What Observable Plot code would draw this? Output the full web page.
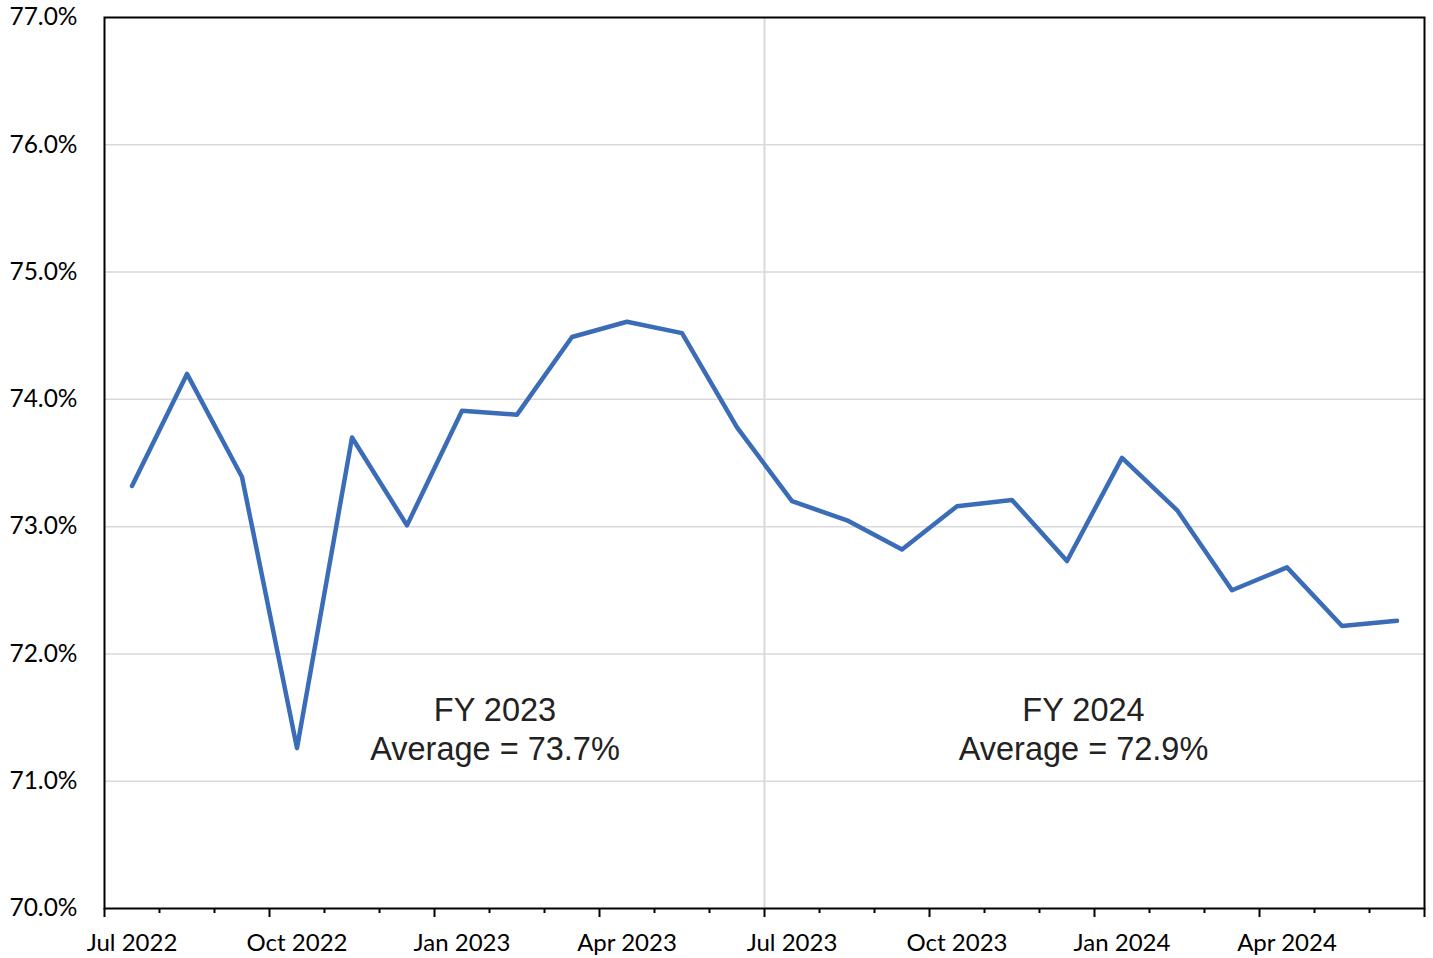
<!DOCTYPE html>
<html>
<head>
<meta charset="utf-8">
<script src="https://cdn.jsdelivr.net/npm/d3@7"></script>
<script src="https://cdn.jsdelivr.net/npm/@observablehq/plot@0.6"></script>
<style>
  html, body { margin: 0; padding: 0; background: #fff; }
  #chart svg { display: block; }
</style>
</head>
<body>
<div id="chart"></div>
<script>
const months = [
  "Jul 2022","Aug 2022","Sep 2022","Oct 2022","Nov 2022","Dec 2022",
  "Jan 2023","Feb 2023","Mar 2023","Apr 2023","May 2023","Jun 2023",
  "Jul 2023","Aug 2023","Sep 2023","Oct 2023","Nov 2023","Dec 2023",
  "Jan 2024","Feb 2024","Mar 2024","Apr 2024","May 2024","Jun 2024"
];
const values = [
  73.32, 74.20, 73.39, 71.26, 73.70, 73.01,
  73.91, 73.88, 74.49, 74.61, 74.52, 73.78,
  73.20, 73.05, 72.82, 73.16, 73.21, 72.73,
  73.54, 73.13, 72.50, 72.68, 72.22, 72.26
];
const yTicks = [70, 71, 72, 73, 74, 75, 76, 77];
const xTickLabels = ["Jul 2022","Oct 2022","Jan 2023","Apr 2023","Jul 2023","Oct 2023","Jan 2024","Apr 2024"];
const fyLabels = ["FY 2023\nAverage = 73.7%", "FY 2024\nAverage = 72.9%"];
const fyLabelMonth = [6.6, 17.3];   // label centre, in month-index units
const fyLabelValue = [71.42, 71.42];  // label centre, in data units

const data = months.map((m, i) => ({month: m, i, value: values[i]}));
const labelIdx = xTickLabels.map(l => months.indexOf(l));
const boundaries = d3.range(months.length + 1).map(k => k - 0.5);
const majorBoundaries = boundaries.filter((b, k) => k % 3 === 0);
const minorBoundaries = boundaries.filter((b, k) => k % 3 !== 0);
const fyBoundary = months.indexOf("Jul 2023") - 0.5;
const annotations = fyLabels.map((t, k) => ({text: t, x: fyLabelMonth[k], y: fyLabelValue[k]}));

const tickFont = "Lato, 'Open Sans', sans-serif";

const chart = Plot.plot({
  width: 1433,
  height: 958,
  marginLeft: 104,
  marginRight: 9,
  marginTop: 17,
  marginBottom: 50,
  style: {background: "#fff", overflow: "visible"},
  x: {type: "linear", domain: [-0.5, months.length - 0.5], axis: null},
  y: {domain: [70, 77], axis: null},
  marks: [
    Plot.ruleY(yTicks.slice(1, -1), {stroke: "#d9d9d9", strokeWidth: 1.5}),
    Plot.ruleX([fyBoundary], {stroke: "#d9d9d9", strokeWidth: 2}),
    Plot.line(data, {x: "i", y: "value", stroke: "#3b6cb7", strokeWidth: 4.5,
      strokeLinejoin: "round", strokeLinecap: "round"}),
    Plot.frame({stroke: "#000", strokeWidth: 2}),
    Plot.axisX(minorBoundaries, {tickSize: 5, strokeWidth: 2, stroke: "#000", tickFormat: () => ""}),
    Plot.axisX(majorBoundaries, {tickSize: 9, strokeWidth: 2, stroke: "#000", tickFormat: () => ""}),
    Plot.text(labelIdx, {x: d => d, frameAnchor: "bottom", dy: 35, lineAnchor: "middle",
      text: d => months[d], fontSize: 24, fontFamily: tickFont, fill: "#000"}),
    Plot.text(yTicks, {y: d => d, frameAnchor: "left", dx: -27, textAnchor: "end", lineAnchor: "middle",
      text: d => d.toFixed(1) + "%", fontSize: 24.5, fontFamily: tickFont, fill: "#000"}),
    Plot.text(annotations, {x: "x", y: "y", text: "text", fontSize: 32.5, lineHeight: 1.2,
      fontFamily: "'Liberation Sans', Arial, sans-serif", fill: "#222", lineAnchor: "middle"})
  ]
});
document.getElementById("chart").appendChild(chart);
</script>
</body>
</html>
